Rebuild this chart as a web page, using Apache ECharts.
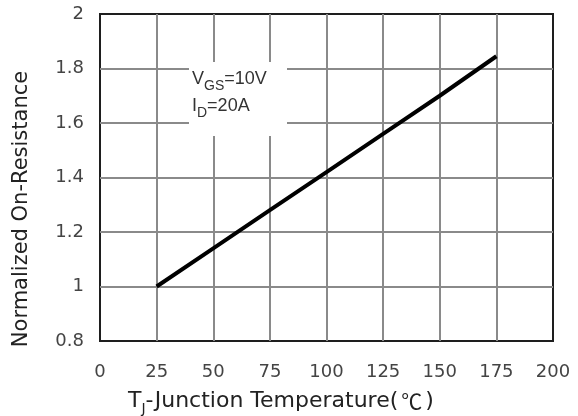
<!DOCTYPE html>
<html>
<head>
<meta charset="utf-8">
<script src="https://cdn.jsdelivr.net/npm/echarts@6/dist/echarts.min.js"></script>
<style>
html,body{margin:0;padding:0;background:#fff;}
#c{width:578px;height:416px;}
</style>
</head>
<body>
<div id="c"></div>
<script>
// Data
var tempC = [25, 50, 75, 100, 125, 150, 175];
var normRds = [1.0, 1.14, 1.28, 1.42, 1.56, 1.70, 1.845];
var xTicks = [0, 25, 50, 75, 100, 125, 150, 175, 200];
var yTicks = [0.8, 1, 1.2, 1.4, 1.6, 1.8, 2];
var xTitleMain = 'T';
var xTitleSub = 'J';
var xTitleRest = '-Junction Temperature(';
var xTitleUnit = '℃';
var yTitle = 'Normalized On-Resistance';
var condLines = [['V', 'GS', '=10V'], ['I', 'D', '=20A']];

var chart = echarts.init(document.getElementById('c'), null, {renderer: 'canvas'});
var FONT = 'DejaVu Sans';
var seriesData = tempC.map(function (t, i) { return [t, normRds[i]]; });

var condText = condLines.map(function (l) {
  return '{v|' + l[0] + '}{s|' + l[1] + '}{v|' + l[2] + '}';
}).join('\n');

chart.setOption({
  animation: false,
  backgroundColor: '#ffffff',
  grid: {
    left: 100, right: 25, top: 14, bottom: 75,
    show: true, borderColor: '#1e1e1e', borderWidth: 2, backgroundColor: 'transparent'
  },
  xAxis: {
    type: 'value', min: xTicks[0], max: xTicks[xTicks.length - 1], interval: 25,
    axisLine: {show: false}, axisTick: {show: false},
    axisLabel: {
      margin: 22, color: '#444', fontFamily: FONT, fontSize: 18,
      formatter: function (v) { return xTicks.indexOf(v) >= 0 ? String(v) : ''; }
    },
    splitLine: {show: true, showMinLine: false, showMaxLine: false, lineStyle: {color: '#8a8a8a', width: 2}}
  },
  yAxis: {
    type: 'value', min: yTicks[0], max: yTicks[yTicks.length - 1], interval: 0.2,
    axisLine: {show: false}, axisTick: {show: false},
    axisLabel: {
      margin: 16, color: '#444', fontFamily: FONT, fontSize: 18,
      formatter: function (v) {
        var r = Math.round(v * 10) / 10;
        for (var i = 0; i < yTicks.length; i++) { if (Math.abs(yTicks[i] - r) < 1e-6) return String(yTicks[i]); }
        return '';
      }
    },
    splitLine: {show: true, showMinLine: false, showMaxLine: false, lineStyle: {color: '#8a8a8a', width: 2}}
  },
  series: [{
    type: 'line', data: seriesData, showSymbol: false, symbol: 'none',
    lineStyle: {color: '#000', width: 4}, z: 5
  }],
  graphic: [
    {
      type: 'rect', shape: {x: 189, y: 62, width: 98, height: 74},
      style: {fill: '#ffffff'}, z: 10
    },
    {
      type: 'text', x: 192, y: 66, z: 11,
      style: {
        text: condText,
        fill: '#333',
        rich: {
          v: {fontFamily: 'Liberation Sans', fontSize: 18, lineHeight: 27, fill: '#333'},
          s: {fontFamily: 'Liberation Sans', fontSize: 14, lineHeight: 12, verticalAlign: 'bottom', fill: '#333'}
        }
      }
    },
    {
      type: 'text', x: 128, y: 386, z: 11,
      style: {
        text: '{t|' + xTitleMain + '}{s|' + xTitleSub + '}{t|' + xTitleRest + '}{c|' + xTitleUnit + '}{t|)}',
        fill: '#222',
        rich: {
          t: {fontFamily: FONT, fontSize: 22, lineHeight: 30, fill: '#222'},
          s: {fontFamily: FONT, fontSize: 14, lineHeight: 14, verticalAlign: 'bottom', fill: '#222'},
          c: {fontFamily: 'Noto Sans CJK SC', fontSize: 21, lineHeight: 30, fill: '#222', padding: [0, 3, 0, 3]}
        }
      }
    },
    {
      type: 'text', x: 22, y: 209, rotation: Math.PI / 2, z: 11,
      style: {
        text: yTitle, fill: '#222',
        font: '21px "DejaVu Sans"', align: 'center', verticalAlign: 'middle'
      }
    }
  ]
});
</script>
</body>
</html>
